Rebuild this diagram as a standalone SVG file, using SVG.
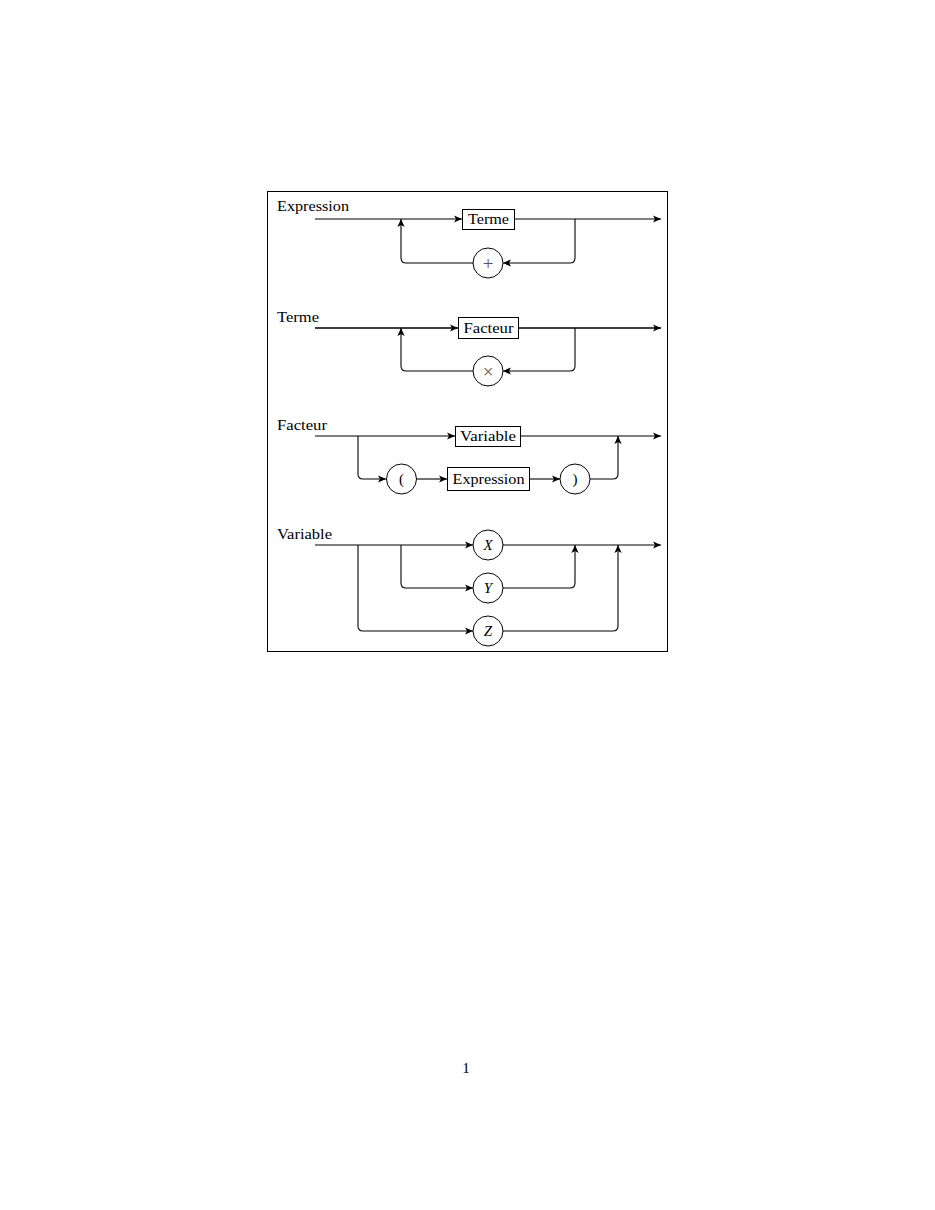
<svg xmlns="http://www.w3.org/2000/svg" width="935" height="1210" viewBox="0 0 935 1210">
<defs>
<marker id="ah" viewBox="0 0 10 10" refX="10" refY="5" markerWidth="8" markerHeight="8" markerUnits="userSpaceOnUse" orient="auto">
<path d="M0,0.5 L10,5 L0,9.5 L2.5,5 Z" fill="#000"/>
</marker>
</defs>
<style>
text{font-family:"Liberation Serif","DejaVu Serif",serif;font-size:15px;fill:#000}
.c{text-anchor:middle}
.i{font-style:italic}
.g{fill:#555;font-size:19px}
.n rect,.n circle{fill:#fff;stroke:#000;stroke-width:1}
#connectors path{fill:none;stroke:#000;stroke-width:1.1}
#connectors path.a{marker-end:url(#ah)}
#connectors path.b{stroke-width:1.7}
</style>
<rect x="267.5" y="191.5" width="400" height="460" fill="none" stroke="#000" stroke-width="1"/>
<g id="labels">
<text x="277" y="211" textLength="72" lengthAdjust="spacingAndGlyphs">Expression</text>
<text x="277" y="322" textLength="42" lengthAdjust="spacingAndGlyphs">Terme</text>
<text x="277" y="430" textLength="50" lengthAdjust="spacingAndGlyphs">Facteur</text>
<text x="277" y="539" textLength="55" lengthAdjust="spacingAndGlyphs">Variable</text>
</g>
<g id="connectors">
<!-- Expression -->
<path class="a" d="M315,219 H462"/>
<path class="a" d="M515,219 H661"/>
<path class="a" d="M575,219 V258 Q575,263 570,263 H503"/>
<path class="a" d="M473,263 H406 Q401,263 401,258 V219"/>
<!-- Terme -->
<path class="a b" d="M315,328 H458"/>
<path class="a b" d="M518,328 H661"/>
<path class="a" d="M575,328 V366 Q575,371 570,371 H503"/>
<path class="a" d="M473,371 H406 Q401,371 401,366 V328"/>
<!-- Facteur -->
<path class="a" d="M315,436 H455"/>
<path class="a" d="M520,436 H661"/>
<path class="a" d="M358,436 V474 Q358,479 363,479 H386"/>
<path class="a" d="M417,479 H447"/>
<path class="a" d="M529,479 H560"/>
<path class="a" d="M590,479 H613 Q618,479 618,474 V436"/>
<!-- Variable -->
<path class="a" d="M315,545 H473"/>
<path class="a" d="M503,545 H661"/>
<path class="a" d="M401,545 V583 Q401,588 406,588 H473"/>
<path class="a" d="M503,588 H570 Q575,588 575,583 V545"/>
<path class="a" d="M358,545 V626 Q358,631 363,631 H473"/>
<path class="a" d="M503,631 H613 Q618,631 618,626 V545"/>
</g>
<g id="expr-terme" class="n"><rect x="462.5" y="209.5" width="52" height="20"/><text class="c" x="488.5" y="224" textLength="41" lengthAdjust="spacingAndGlyphs">Terme</text></g>
<g id="expr-plus" class="n"><circle cx="488" cy="263" r="15"/><text class="c g" x="488" y="269.5">+</text></g>
<g id="terme-facteur" class="n"><rect x="458.5" y="317.5" width="60" height="21"/><text class="c" x="488.5" y="333" textLength="50" lengthAdjust="spacingAndGlyphs">Facteur</text></g>
<g id="terme-times" class="n"><circle cx="488" cy="371" r="15"/><text class="c g" x="488" y="377.5">×</text></g>
<g id="facteur-variable" class="n"><rect x="455.5" y="426.5" width="65" height="20"/><text class="c" x="488" y="441" textLength="56" lengthAdjust="spacingAndGlyphs">Variable</text></g>
<g id="facteur-lpar" class="n"><circle cx="401.5" cy="479" r="15"/><text class="c" x="401.5" y="484">(</text></g>
<g id="facteur-expression" class="n"><rect x="447.5" y="467.5" width="82" height="23"/><text class="c" x="488.5" y="484" textLength="72" lengthAdjust="spacingAndGlyphs">Expression</text></g>
<g id="facteur-rpar" class="n"><circle cx="575" cy="479" r="15"/><text class="c" x="575" y="484">)</text></g>
<g id="var-x" class="n"><circle cx="488" cy="545" r="15"/><text class="c i" x="488" y="550">X</text></g>
<g id="var-y" class="n"><circle cx="488" cy="588" r="15"/><text class="c i" x="488" y="593">Y</text></g>
<g id="var-z" class="n"><circle cx="488" cy="631" r="15"/><text class="c i" x="488" y="636">Z</text></g>
<text class="c" x="466" y="1073">1</text>
</svg>
